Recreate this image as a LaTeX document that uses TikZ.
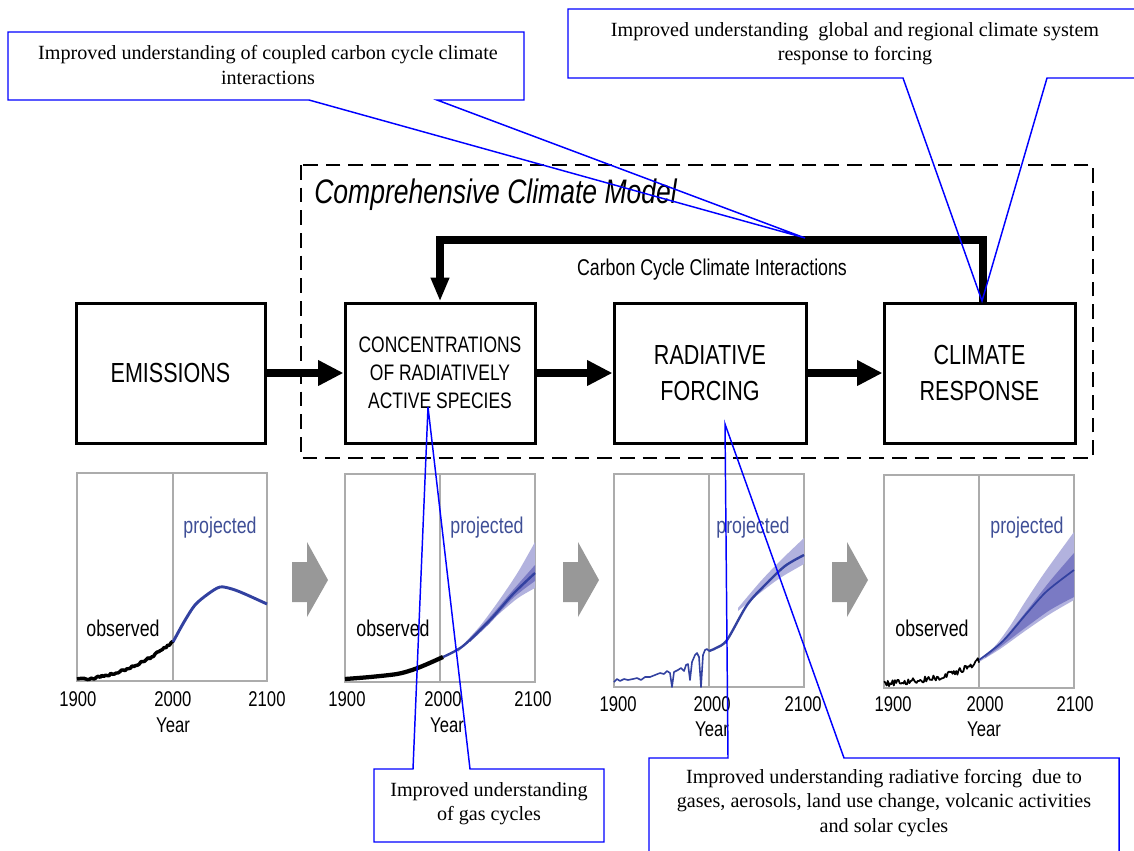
\documentclass[tikz,border=0pt]{standalone}
\usepackage{fontspec}
\setmainfont{Liberation Serif}
\newfontfamily\hv[FakeStretch=0.78]{Liberation Sans}
\usetikzlibrary{arrows.meta}
\definecolor{cblue}{RGB}{0,0,255}
\definecolor{projblue}{RGB}{62,78,150}
\definecolor{meanblue}{RGB}{50,65,160}
\definecolor{bandlight}{RGB}{178,178,222}
\definecolor{banddark}{RGB}{122,122,196}
\definecolor{framegray}{RGB}{172,172,172}
\definecolor{arrowgray}{RGB}{152,152,152}
\begin{document}
\begin{tikzpicture}[x=0.75pt,y=-0.75pt,
  mainbox/.style={draw,line width=2.25pt,minimum height=105pt,inner sep=0pt,align=center,font=\hv\fontsize{20.7}{27}\selectfont},
  smallbox/.style={mainbox,font=\hv\fontsize{16.8}{21}\selectfont},
  flowarrow/.style={line width=6pt,-{Triangle[length=19pt,width=18pt]}},
  fbarrow/.style={line width=5.8pt,line join=miter,-{Triangle[length=18pt,width=13pt]}},
  plotframe/.style={draw=framegray,line width=1.1pt},
  plotdiv/.style={draw=framegray,line width=0.9pt},
  ticklab/.style={font=\hv\fontsize{16}{18}\selectfont,inner sep=1pt},
  projlab/.style={font=\hv\fontsize{17.1}{19}\selectfont,text=projblue},
  obslab/.style={font=\hv\fontsize{17.1}{19}\selectfont},
  obsline/.style={black,line width=2.6pt,line join=round},
  meanline/.style={meanblue,line width=1.8pt,line join=round},
  noisyblue/.style={meanblue,line width=1.2pt,line join=round},
  callout/.style={draw=cblue,line width=1.1pt,line join=miter},
  callouttext/.style={align=center,font=\fontsize{15.1}{18.2}\selectfont,inner sep=0pt},
  grayarrow/.style={fill=arrowgray}
]
\useasboundingbox (0,0) rectangle (1134,850);
\clip (0,0) rectangle (1134,850);
\pgfmathsetseed{11}

% ---------- Comprehensive climate model frame ----------
\draw[line width=1.6pt,dash pattern=on 11pt off 6pt] (301,165) rectangle (1093,458);
\node[anchor=west,font=\hv\itshape\fontsize{25.5}{30}\selectfont,inner sep=0pt] (ccm) at (314,195) {Comprehensive Climate Model};
\node[font=\hv\fontsize{17.1}{19}\selectfont] (cci) at (712,270) {Carbon Cycle Climate Interactions};

% ---------- main boxes ----------
\node[mainbox,minimum width=141.75pt] (em) at (170.5,373) {EMISSIONS};
\node[smallbox,minimum width=142.5pt] (conc) at (440,373) {CONCENTRATIONS\\OF RADIATIVELY\\ACTIVE SPECIES};
\node[mainbox,minimum width=144pt] (rad) at (710,373) {RADIATIVE\\FORCING};
\node[mainbox,minimum width=143.25pt] (clim) at (979.5,373) {CLIMATE\\RESPONSE};

\draw[flowarrow] (em.east) -- (conc.west);
\draw[flowarrow] (rad.west -| conc.east) -- (rad.west);
\draw[flowarrow] (rad.east) -- (clim.west);

\coordinate (fbR) at (983,240);
\coordinate (fbL) at (440,240);
\draw[fbarrow] (clim.north -| fbR) -- (fbR) -- (fbL) -- (conc.north -| fbL);

% ---------- plot 1 ----------
\draw[plotframe] (77,473) rectangle (267,681);
\draw[plotdiv] (173,473) -- (173,681);
\draw[obsline] plot[domain=77:173,samples=55] (\x,{679-37*((\x-77)/96)*((\x-77)/96)+1.3*rand});
\draw[meanline,line width=2.2pt] plot[smooth] coordinates {(173,642)(184,622)(195,605)(208,594)(220,587)(232,589)(245,594)(267,604)};
\node[projlab] (p1) at (220,528) {projected};
\node[obslab] (o1) at (123,628) {observed};
\node[ticklab] (a1) at (78,699) {1900};
\node[ticklab] (b1) at (173,699) {2000};
\node[ticklab] (c1) at (267,699) {2100};
\node[ticklab] (y1) at (173,725) {Year};

% ---------- plot 2 ----------
\draw[plotframe] (345,474) rectangle (535,682);
\draw[plotdiv] (440,474) -- (440,682);
\fill[bandlight] plot[smooth] coordinates {(458,650)(480,626)(500,599)(518,572)(535,542)} -- plot[smooth] coordinates {(535,588)(518,598)(500,613)(480,631)(458,652)} -- cycle;
\fill[banddark] plot[smooth] coordinates {(470,638)(490,617)(513,590)(535,565)} -- plot[smooth] coordinates {(535,581)(513,598)(490,623)(470,642)} -- cycle;
\draw[meanline] plot[smooth] coordinates {(443,657)(463,646)(490,620)(513,594)(535,573)};
\draw[obsline,line width=3.2pt] plot[smooth] coordinates {(345,679)(370,677)(397,674)(412,670)(425,665)(443,657)};
\node[projlab] (p2) at (487,528) {projected};
\node[obslab] (o2) at (393,628) {observed};
\node[ticklab] (a2) at (347,699) {1900};
\node[ticklab] (b2) at (443,699) {2000};
\node[ticklab] (c2) at (533,699) {2100};
\node[ticklab] (y2) at (447,725) {Year};

% ---------- plot 3 ----------
\draw[plotframe] (614,474) rectangle (804,687);
\draw[plotdiv] (709,474) -- (709,687);
\fill[bandlight] plot[smooth] coordinates {(738,608)(760,582)(780,561)(804,538)} -- plot[smooth] coordinates {(804,564)(780,578)(760,593)(738,611)} -- cycle;
\draw[noisyblue] (614,682) -- (617,679) -- (620,681) -- (624,679) -- (628,680) -- (633,679) -- (637,678) -- (641,680) -- (645,677) -- (650,677) -- (655,675) -- (660,673) -- (664,674) -- (667,671) -- (670,673) -- (672,687) -- (674,672) -- (678,670) -- (681,668) -- (684,671) -- (686,665) -- (688,664) -- (690,680) -- (692,662) -- (695,655) -- (697,653) -- (699,657) -- (701,687) -- (703,655) -- (705,650) -- (707,649) -- (709,651);
\draw[meanline] plot[smooth] coordinates {(709,651)(716,648)(727,640)(747,605)(765,585)(785,566)(804,555)};
\node[projlab] (p3) at (753,528) {projected};
\node[ticklab] (a3) at (618,704) {1900};
\node[ticklab] (b3) at (712,704) {2000};
\node[ticklab] (c3) at (803,704) {2100};
\node[ticklab] (y3) at (712,729) {Year};

% ---------- plot 4 ----------
\draw[plotframe] (884,475) rectangle (1074,688);
\draw[plotdiv] (979,475) -- (979,688);
\fill[bandlight] plot[smooth] coordinates {(979,660)(995,646)(1010,626)(1025,602)(1045,572)(1074,532)} -- plot[smooth] coordinates {(1074,600)(1050,614)(1025,631)(1000,649)(979,662)} -- cycle;
\fill[banddark] plot[smooth] coordinates {(985,655)(1000,643)(1025,613)(1050,581)(1074,553)} -- plot[smooth] coordinates {(1074,597)(1050,610)(1025,628)(1000,647)(985,658)} -- cycle;
\draw[meanline,line width=1.3pt] plot[smooth] coordinates {(979,660)(1003,641)(1027,613)(1047,591)(1074,570)};
\draw[black,line width=1.3pt,line join=round] plot[domain=884.2:979,samples=80] (\x,{684-9*((\x-884)/95)-15*((\x-884)/95)*((\x-884)/95)*((\x-884)/95)*((\x-884)/95)+3*rand});
\node[projlab] (p4) at (1027,528) {projected};
\node[obslab] (o4) at (932,628) {observed};
\node[ticklab] (a4) at (893,704) {1900};
\node[ticklab] (b4) at (985,704) {2000};
\node[ticklab] (c4) at (1075,704) {2100};
\node[ticklab] (y4) at (984,729) {Year};

% ---------- gray arrows between plots ----------
\foreach \dx in {0,271,540}{
  \fill[grayarrow,xshift=\dx*0.75pt] (292,562) -- (307,562) -- (307,542) -- (328,580) -- (307,617) -- (307,602) -- (292,602) -- cycle;
}

% ---------- callouts ----------
\coordinate (tip1) at (805,238);
\coordinate (tip2) at (982,301);
\coordinate (tip3) at (428,407);
\coordinate (tip4) at (725,424);

\draw[callout] (8,32) -- (524,32) -- (524,100) -- (437,100) -- (tip1) -- (309,100) -- (8,100) -- cycle;
\node[callouttext] (c1t) at (268,65) {Improved understanding of coupled carbon cycle climate\\interactions};

\draw[callout] (568,9) -- (1145,9) -- (1145,78) -- (1047,78) -- (tip2) -- (903,78) -- (568,78) -- cycle;
\node[callouttext] (c2t) at (855,43.5) {Improved understanding~ global and regional climate system\\response to forcing};

\draw[callout] (374,769) -- (413,769) -- (tip3) -- (470,769) -- (604,769) -- (604,842) -- (374,842) -- cycle;
\node[callouttext] (c3t) at (489,803.5) {Improved understanding\\of gas cycles};

\draw[callout] (649,758) -- (728,758) -- (tip4) -- (844,758) -- (1119,758) -- (1119,870) -- (649,870) -- cycle;
\node[callouttext] (c4t) at (884,803) {Improved understanding radiative forcing~ due to\\gases, aerosols, land use change, volcanic activities\\and solar cycles};
\end{tikzpicture}
\end{document}
